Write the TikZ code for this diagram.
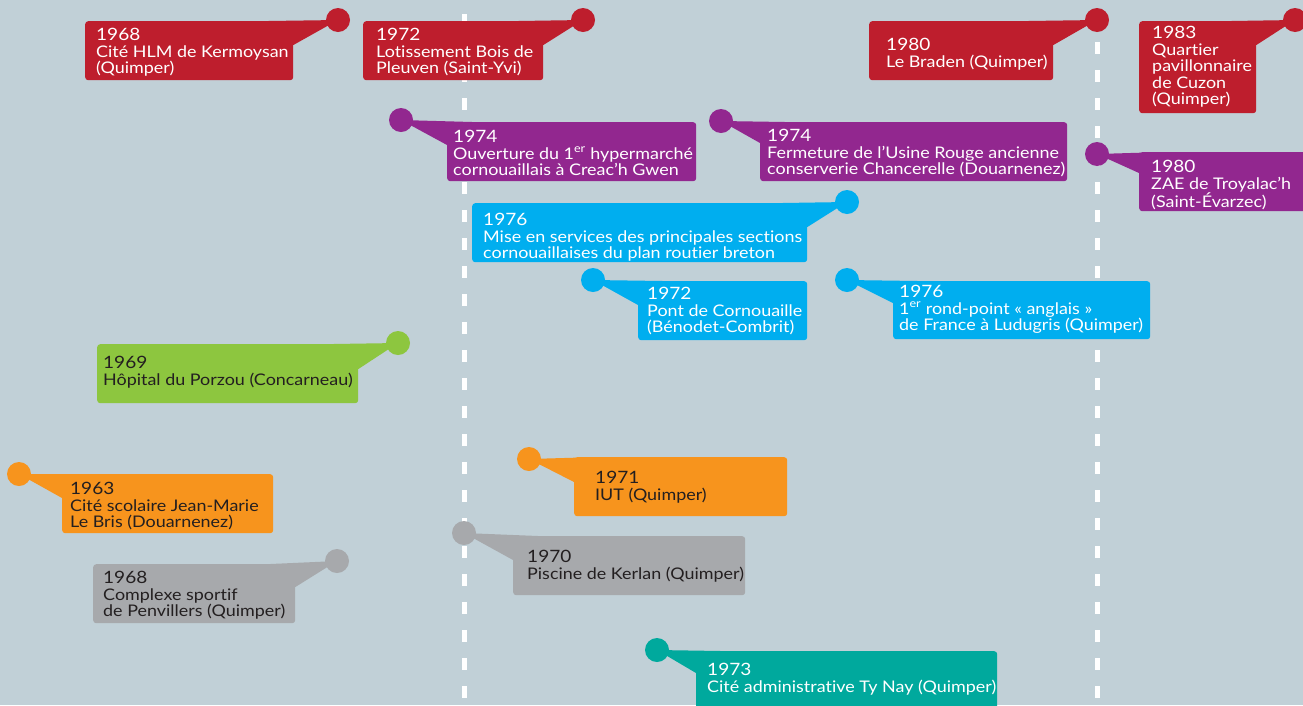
\documentclass[tikz,border=0pt]{standalone}
\usepackage{fontspec}
\setmainfont{Lato}[FakeStretch=1.12, Ligatures=NoCommon]
\definecolor{bg}{HTML}{C1D0D7}
\definecolor{habred}{HTML}{BE1E2D}
\definecolor{compurple}{HTML}{92278F}
\definecolor{roadblue}{HTML}{00AEEF}
\definecolor{caregreen}{HTML}{8DC63F}
\definecolor{eduorange}{HTML}{F7941D}
\definecolor{sportgrey}{HTML}{A7A9AC}
\definecolor{admteal}{HTML}{00A99D}
\definecolor{darktext}{HTML}{231F20}
\newcommand{\yr}[1]{{\fontsize{17}{16}\selectfont #1}}

\tikzset{
  yeardot/.style={circle, inner sep=0pt, minimum size=24pt},
  card/.style={anchor=north west, inner sep=0pt, rounded corners=3pt},
  cardtext/.style={anchor=north west, inner sep=0pt, align=left,
    font=\fontsize{16}{16.5}\selectfont},
  tick/.style={white, line width=5pt, dash pattern=on 12pt off 16pt}
}

\begin{document}
\begin{tikzpicture}[x=1pt,y=-1pt]

  \useasboundingbox (0,0) rectangle (1303,705);
  \clip (0,0) rectangle (1303,705);
  \fill[bg] (0,0) rectangle (1303,705);

  % time marks
  \draw[tick] (464,14) -- (464,705);
  \draw[tick] (1097,14) -- (1097,705);

  \begin{scope}[every node/.style={yeardot}]
    \node[fill=habred]     (d1)  at (338,20)  {};
    \node[fill=habred]     (d2)  at (583,20)  {};
    \node[fill=habred]     (d3)  at (1097,20) {};
    \node[fill=habred]     (d4)  at (1295,20) {};
    \node[fill=compurple]  (d5)  at (401,120) {};
    \node[fill=compurple]  (d6)  at (721,121) {};
    \node[fill=compurple]  (d7)  at (1097,154) {};
    \node[fill=roadblue]   (d8)  at (847,202) {};
    \node[fill=roadblue]   (d9)  at (593,280) {};
    \node[fill=roadblue]   (d10) at (847,280) {};
    \node[fill=caregreen]  (d11) at (398,343) {};
    \node[fill=eduorange]  (d12) at (19,474)  {};
    \node[fill=sportgrey]  (d13) at (337,561) {};
    \node[fill=eduorange]  (d14) at (529,459) {};
    \node[fill=sportgrey]  (d15) at (464,533) {};
    \node[fill=admteal]    (d16) at (657,650) {};
  \end{scope}

  \begin{scope}[every node/.style={card}]
    \node[fill=habred, minimum width=208, minimum height=59]    (b1)  at (85,21)   {};
    \node[fill=habred, minimum width=180, minimum height=59]    (b2)  at (363,21)  {};
    \node[fill=habred, minimum width=184, minimum height=59]    (b3)  at (869,21)  {};
    \node[fill=habred, minimum width=117, minimum height=92]    (b4)  at (1139,21) {};
    \node[fill=compurple, minimum width=249, minimum height=59] (b5)  at (447,122) {};
    \node[fill=compurple, minimum width=307, minimum height=59] (b6)  at (760,122) {};
    \node[fill=compurple, minimum width=180, minimum height=59] (b7)  at (1139,152) {};
    \node[fill=roadblue, minimum width=335, minimum height=59]  (b8)  at (472,203) {};
    \node[fill=roadblue, minimum width=169, minimum height=59]  (b9)  at (638,281) {};
    \node[fill=roadblue, minimum width=257, minimum height=58]  (b10) at (893,281) {};
    \node[fill=caregreen, minimum width=261, minimum height=59] (b11) at (97,344)  {};
    \node[fill=eduorange, minimum width=211, minimum height=59] (b12) at (62,474)  {};
    \node[fill=sportgrey, minimum width=202, minimum height=59] (b13) at (93,564)  {};
    \node[fill=eduorange, minimum width=213, minimum height=59] (b14) at (574,457) {};
    \node[fill=sportgrey, minimum width=232, minimum height=59] (b15) at (513,536) {};
    \node[fill=admteal, minimum width=301, minimum height=70]   (b16) at (696,651) {};
  \end{scope}

  % tails towards the dots
  \fill[habred]    (d1.center)  -- ([xshift=-25]b1.north east)  -- ([yshift=-24]b1.north east)  -- cycle;
  \fill[habred]    (d2.center)  -- ([xshift=-25]b2.north east)  -- ([yshift=-24]b2.north east)  -- cycle;
  \fill[habred]    (d3.center)  -- ([xshift=-25]b3.north east)  -- ([yshift=-24]b3.north east)  -- cycle;
  \fill[habred]    (d4.center)  -- ([xshift=-25]b4.north east)  -- ([yshift=-24]b4.north east)  -- cycle;
  \fill[compurple] (d5.center)  -- ([xshift=25]b5.north west)   -- ([yshift=-23]b5.north west)  -- cycle;
  \fill[compurple] (d6.center)  -- ([xshift=25]b6.north west)   -- ([yshift=-21]b6.north west)  -- cycle;
  \fill[compurple] (d7.center)  -- ([xshift=25]b7.north west)   -- ([yshift=-21]b7.north west)  -- cycle;
  \fill[roadblue]  (d8.center)  -- ([xshift=-25]b8.north east)  -- ([yshift=-24]b8.north east)  -- cycle;
  \fill[roadblue]  (d9.center)  -- ([xshift=25]b9.north west)   -- ([yshift=-24]b9.north west)  -- cycle;
  \fill[roadblue]  (d10.center) -- ([xshift=25]b10.north west)  -- ([yshift=-22]b10.north west) -- cycle;
  \fill[caregreen] (d11.center) -- ([xshift=-25]b11.north east) -- ([yshift=-25]b11.north east) -- cycle;
  \fill[eduorange] (d12.center) -- ([xshift=25]b12.north west)  -- ([yshift=-24]b12.north west) -- cycle;
  \fill[sportgrey] (d13.center) -- ([xshift=-25]b13.north east) -- ([yshift=-23]b13.north east) -- cycle;
  \fill[eduorange] (d14.center) -- ([xshift=25]b14.north west)  -- ([yshift=-25]b14.north west) -- cycle;
  \fill[sportgrey] (d15.center) -- ([xshift=25]b15.north west)  -- ([yshift=-24]b15.north west) -- cycle;
  \fill[admteal]   (d16.center) -- ([xshift=25]b16.north west)  -- ([yshift=-22]b16.north west) -- cycle;

  \begin{scope}[every node/.style={cardtext}]
    \node[text=white]    (t1)  at (96,28)   {\yr{1968}\\Cité HLM de Kermoysan\\(Quimper)};
    \node[text=white]    (t2)  at (376,28)  {\yr{1972}\\Lotissement Bois de\\Pleuven (Saint-Yvi)};
    \node[text=white]    (t3)  at (886,38)  {\yr{1980}\\Le Braden (Quimper)};
    \node[text=white]    (t4)  at (1152,26) {\yr{1983}\\Quartier\\pavillonnaire\\de Cuzon\\(Quimper)};
    \node[text=white]    (t5)  at (453,130) {\yr{1974}\\Ouverture du 1\textsuperscript{er} hypermarché\\cornouaillais à Creac'h Gwen};
    \node[text=white]    (t6)  at (767,129) {\yr{1974}\\Fermeture de l'Usine Rouge ancienne\\conserverie Chancerelle (Douarnenez)};
    \node[text=white]    (t7)  at (1151,160) {\yr{1980}\\ZAE de Troyalac'h\\(Saint-Évarzec)};
    \node[text=white]    (t8)  at (483,213) {\yr{1976}\\Mise en services des principales sections\\cornouaillaises du plan routier breton};
    \node[text=white]    (t9)  at (647,287) {\yr{1972}\\Pont de Cornouaille\\(Bénodet-Combrit)};
    \node[text=white]    (t10) at (899,285) {\yr{1976}\\1\textsuperscript{er} rond-point « anglais »\\de France à Ludugris (Quimper)};
    \node[text=darktext] (t11) at (103,356) {\yr{1969}\\Hôpital du Porzou (Concarneau)};
    \node[text=darktext] (t12) at (70,482)  {\yr{1963}\\Cité scolaire Jean-Marie\\Le Bris (Douarnenez)};
    \node[text=darktext] (t13) at (103,571) {\yr{1968}\\Complexe sportif\\de Penvillers (Quimper)};
    \node[text=darktext] (t14) at (595,471) {\yr{1971}\\IUT (Quimper)};
    \node[text=darktext] (t15) at (527,550) {\yr{1970}\\Piscine de Kerlan (Quimper)};
    \node[text=white]    (t16) at (707,663) {\yr{1973}\\Cité administrative Ty Nay (Quimper)};
  \end{scope}

\end{tikzpicture}
\end{document}
